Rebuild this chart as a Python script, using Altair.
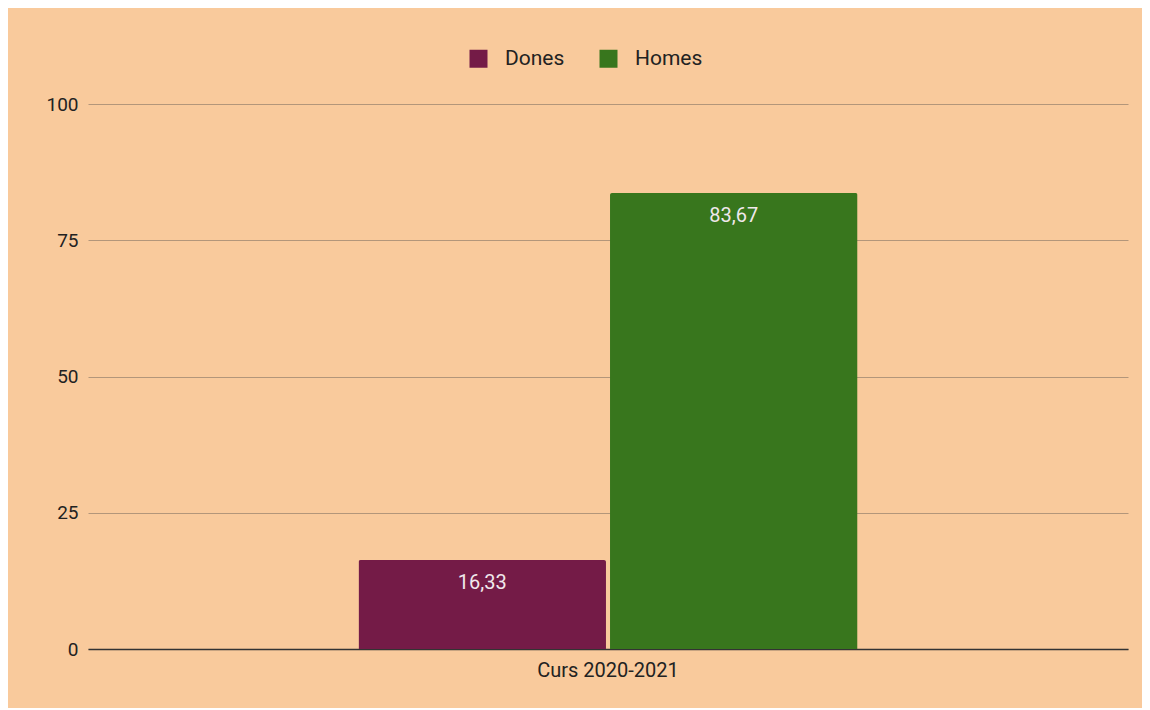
import altair as alt
import pandas as pd

categories = ["Curs 2020-2021", "Curs 2020-2021"]
series = ["Dones", "Homes"]
values = [16.33, 83.67]
y_ticks = [0, 25, 50, 75, 100]
colors = ["#741b47", "#38761d"]

df = pd.DataFrame({"curs": categories, "sexe": series, "valor": values})
df["etiqueta"] = [f"{v:.2f}".replace(".", ",") for v in values]

FONT = "Roboto"

base = alt.Chart(df).encode(
    x=alt.X("curs:N", title=None,
            scale=alt.Scale(paddingInner=0, paddingOuter=0.542),
            axis=alt.Axis(labelAngle=0, labelFontSize=20, labelColor="#222222",
                          labelFont=FONT, labelPadding=11, ticks=False,
                          domainColor="#333333", domainWidth=1.6, grid=False)),
    xOffset=alt.XOffset("sexe:N", scale=alt.Scale(paddingInner=0.016, paddingOuter=0)),
)

bars = base.mark_bar(cornerRadiusTopLeft=2, cornerRadiusTopRight=2).encode(
    y=alt.Y("valor:Q", title=None,
            scale=alt.Scale(domain=[0, 100], nice=False),
            axis=alt.Axis(values=y_ticks, labelFontSize=19, labelColor="#222222",
                          labelFont=FONT, labelPadding=10, ticks=False, domain=False,
                          gridColor="#b3967a", gridWidth=1)),
    color=alt.Color("sexe:N", scale=alt.Scale(domain=series, range=colors),
                    legend=alt.Legend(title=None, orient="none", direction="horizontal",
                                      legendX=380, legendY=-56,
                                      symbolType="square", symbolSize=324,
                                      symbolStrokeWidth=0, labelFontSize=21,
                                      labelFont=FONT, labelColor="#222222",
                                      columnPadding=33, labelOffset=16)),
)

text = base.mark_text(dy=13, baseline="top", fontSize=20, font=FONT,
                      color="#f0e8ec").encode(
    y=alt.Y("valor:Q"),
    text="etiqueta:N",
)

chart = (bars + text).properties(
    width=1040, height=545,
    background="#f9ca9c",
    padding={"left": 80, "top": 96, "right": 14, "bottom": 59},
    autosize=alt.AutoSizeParams(type="none"),
).configure_view(stroke=None)

chart.save("out.html", embed_options={"renderer": "svg", "actions": False})
